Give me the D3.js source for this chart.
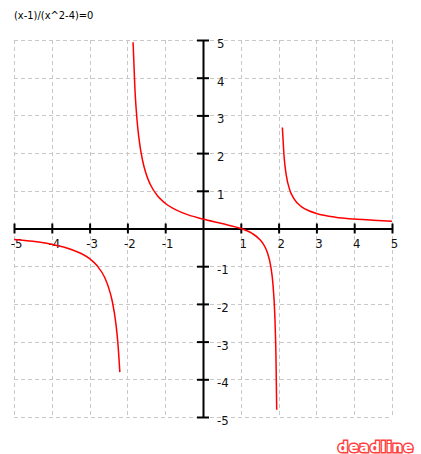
<!DOCTYPE html>
<html>
<head>
<meta charset="utf-8">
<script src="https://cdn.jsdelivr.net/npm/d3@7"></script>
<style>
  html, body { margin: 0; padding: 0; background: #fff; }
  svg { display: block; }
</style>
</head>
<body>
<div id="chart"></div>
<script>
// Title of the plot
const title = '(x-1)/(x^2-4)=0';

// Tick values for both axes
const tickValues = [-5, -4, -3, -2, -1, 1, 2, 3, 4, 5];
const gridValues = [-5, -4, -3, -2, -1, 0, 1, 2, 3, 4, 5];

// Curve points, one pair of arrays per branch
const leftX = [-5, -4.5, -4, -3.5, -3, -2.8, -2.6, -2.5, -2.4, -2.3, -2.25, -2.2];
const leftY = [-0.29, -0.34, -0.42, -0.55, -0.8, -0.99, -1.3, -1.56, -1.93, -2.56, -3.06, -3.81];

const midX = [-1.85, -1.8, -1.75, -1.7, -1.6, -1.5, -1.4, -1.2, -1, -0.5, 0, 0.5, 1, 1.3, 1.5, 1.6, 1.7, 1.8, 1.85, 1.9, 1.93, 1.95];
const midY = [4.94, 3.68, 2.93, 2.43, 1.81, 1.43, 1.18, 0.86, 0.67, 0.4, 0.25, 0.13, 0, -0.13, -0.29, -0.42, -0.63, -1.05, -1.47, -2.31, -3.38, -4.81];

const rightX = [2.1, 2.15, 2.2, 2.3, 2.4, 2.6, 2.8, 3, 3.5, 4, 4.5, 5];
const rightY = [2.68, 1.85, 1.43, 1.01, 0.8, 0.58, 0.47, 0.4, 0.3, 0.25, 0.22, 0.19];

const width = 421, height = 454;
const labelFont = "Tahoma, 'DejaVu Sans Condensed', 'DejaVu Sans', sans-serif";

const svg = d3.select('#chart')
  .append('svg')
  .attr('width', width)
  .attr('height', height);

const x = d3.scaleLinear().domain([-5, 5]).range([14, 392]);
const y = d3.scaleLinear().domain([-5, 5]).range([417, 40]);

// dashed grid
const grid = svg.append('g')
  .attr('stroke', '#c8c8c8')
  .attr('stroke-width', 1)
  .attr('stroke-dasharray', '4,3')
  .attr('shape-rendering', 'crispEdges');

grid.selectAll('.vgrid')
  .data(gridValues).enter().append('line')
  .attr('class', 'vgrid')
  .attr('x1', d => Math.round(x(d)) + 0.5)
  .attr('x2', d => Math.round(x(d)) + 0.5)
  .attr('y1', y(5))
  .attr('y2', y(-5));

grid.selectAll('.hgrid')
  .data(gridValues).enter().append('line')
  .attr('class', 'hgrid')
  .attr('y1', d => Math.round(y(d)) + 0.5)
  .attr('y2', d => Math.round(y(d)) + 0.5)
  .attr('x1', x(-5))
  .attr('x2', x(5));

// plain hyphen minus like the original
const fmt = d => String(d);

// x axis through y = 0
const xAxis = svg.append('g')
  .attr('transform', 'translate(0,' + y(0) + ')')
  .call(d3.axisBottom(x).tickValues(tickValues).tickFormat(fmt).tickSize(0).tickPadding(0).tickSizeOuter(0));

xAxis.select('.domain').attr('stroke', '#000').attr('stroke-width', 2);
xAxis.selectAll('.tick line')
  .attr('y1', -5).attr('y2', 5)
  .attr('stroke', '#000').attr('stroke-width', 2);
xAxis.selectAll('.tick text')
  .attr('x', 2)
  .attr('y', 15)
  .attr('dy', '0.35em')
  .attr('fill', '#111')
  .style('font-size', '13px')
  .style('font-family', labelFont);

// y axis through x = 0
const yAxis = svg.append('g')
  .attr('transform', 'translate(' + x(0) + ',0)')
  .call(d3.axisRight(y).tickValues(tickValues).tickFormat(fmt).tickSize(0).tickPadding(0).tickSizeOuter(0));

yAxis.select('.domain').attr('stroke', '#000').attr('stroke-width', 2);
yAxis.selectAll('.tick line')
  .attr('x1', -6).attr('x2', 6)
  .attr('stroke', '#000').attr('stroke-width', 2);
yAxis.selectAll('.tick text')
  .attr('x', 14)
  .attr('y', 3)
  .attr('dy', '0.35em')
  .attr('text-anchor', 'start')
  .attr('fill', '#111')
  .style('font-size', '13px')
  .style('font-family', labelFont);

// red curve, three branches
const line = d3.line()
  .x(d => x(d[0]))
  .y(d => y(d[1]))
  .curve(d3.curveMonotoneX);

const branches = [
  d3.zip(leftX, leftY),
  d3.zip(midX, midY),
  d3.zip(rightX, rightY)
];

svg.selectAll('.branch')
  .data(branches).enter().append('path')
  .attr('class', 'branch')
  .attr('d', line)
  .attr('fill', 'none')
  .attr('stroke', '#ff0000')
  .attr('stroke-width', 1.5);

// title
svg.append('text')
  .attr('x', 14)
  .attr('y', 15)
  .attr('dy', '0.35em')
  .attr('fill', '#000')
  .style('font-size', '11px')
  .style('font-family', labelFont)
  .text(title);

// watermark
svg.append('text')
  .attr('x', 338)
  .attr('y', 447)
  .attr('dy', '0.35em')
  .attr('fill', '#fff')
  .attr('stroke', '#ff4040')
  .attr('stroke-width', 3)
  .attr('paint-order', 'stroke')
  .attr('letter-spacing', '1px')
  .style('font-size', '14px')
  .style('font-weight', 'bold')
  .style('font-family', "'DejaVu Sans', sans-serif")
  .text('deadline');
</script>
</body>
</html>
